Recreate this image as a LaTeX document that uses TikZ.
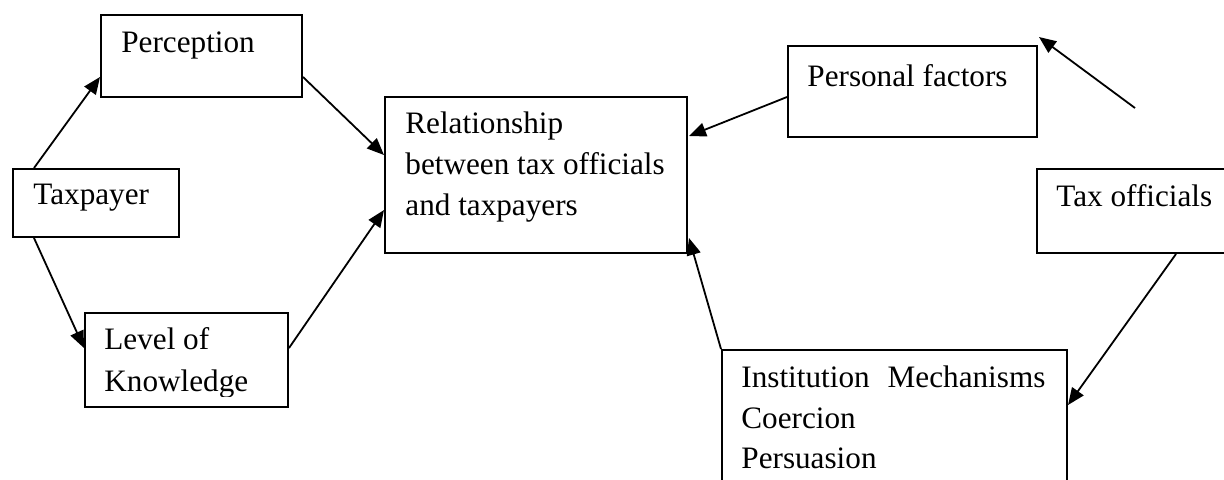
\documentclass[tikz,border=0pt]{standalone}
\usepackage{fontspec}
\setmainfont{Liberation Serif}
\usetikzlibrary{arrows.meta,calc}
\begin{document}
\begin{tikzpicture}[x=0.5pt,y=-0.5pt,
  box/.style={draw,line width=1pt,rectangle,inner sep=0pt,anchor=north west},
  txt/.style={inner sep=0pt,anchor=base west,font=\fontsize{15.6}{20.5}\selectfont},
  arr/.style={line width=0.9pt,-{Triangle[length=8.5pt,width=7pt]}}]
\useasboundingbox (0,0) rectangle (1224,479);
\clip (0,0) rectangle (1224,479);
% boxes
\node[box,minimum width=100.5pt,minimum height=41pt] (perc) at (100,14) {};
\node[box,minimum width=83pt,minimum height=34pt] (taxp) at (12,168) {};
\node[box,minimum width=101.5pt,minimum height=47pt] (lok) at (84,312) {};
\node[box,minimum width=151pt,minimum height=78pt] (rel) at (384,96) {};
\node[box,minimum width=124.5pt,minimum height=45.5pt] (pers) at (787,45) {};
\node[box,minimum width=102pt,minimum height=42pt] (taxo) at (1036,168) {};
\node[box,minimum width=172.5pt,minimum height=75.5pt] (inst) at (721,349) {};
% texts
\node[txt] (tperc) at (121,52) {Perception};
\node[txt] (ttaxp) at (33,204) {Taxpayer};
\node[txt] (tlok1) at (104,349) {Level of};
\begin{scope}
\clip (84,360) rectangle (287,396);
\node[txt] (tlok2) at (104,391) {Knowledge};
\end{scope}
\node[txt] (trel1) at (405,133) {Relationship};
\node[txt] (trel2) at (405,174) {between tax officials};
\node[txt] (trel3) at (405,215) {and taxpayers};
\node[txt] (tpers) at (807,86) {Personal factors};
\node[txt] (ttaxo) at (1056,206) {Tax officials};
\node[txt] (tinst1) at (741,387) {\hbox to 152pt{Institution\hfill Mechanisms}};
\node[txt] (tinst2) at (741,428) {Coercion};
\node[txt] (tinst3) at (741,468) {Persuasion};
% connectors
\draw[arr] ($(taxp.north west)+(22,0)$) -- ($(perc.north west)+(0,63)$);
\draw[arr] ($(taxp.south west)+(22,0)$) -- ($(lok.north west)+(0,36)$);
\draw[arr] ($(perc.north east)+(0,63)$) -- ($(rel.north west)+(0,59)$);
\draw[arr] ($(lok.north east)+(0,36)$) -- ($(rel.north west)+(0,114)$);
\draw[arr] ($(pers.north west)+(0,52)$) -- ($(rel.north east)+(1,40)$);
\draw[arr] (inst.north west) -- ($(rel.north east)+(1,142)$);
\draw[arr] ($(taxo.south west)+(140,0)$) -- ($(inst.north east)+(0,56)$);
\coordinate (free) at (1135,108);
\draw[arr] (free) -- ($(pers.north east)+(1,-8)$);
\end{tikzpicture}
\end{document}
